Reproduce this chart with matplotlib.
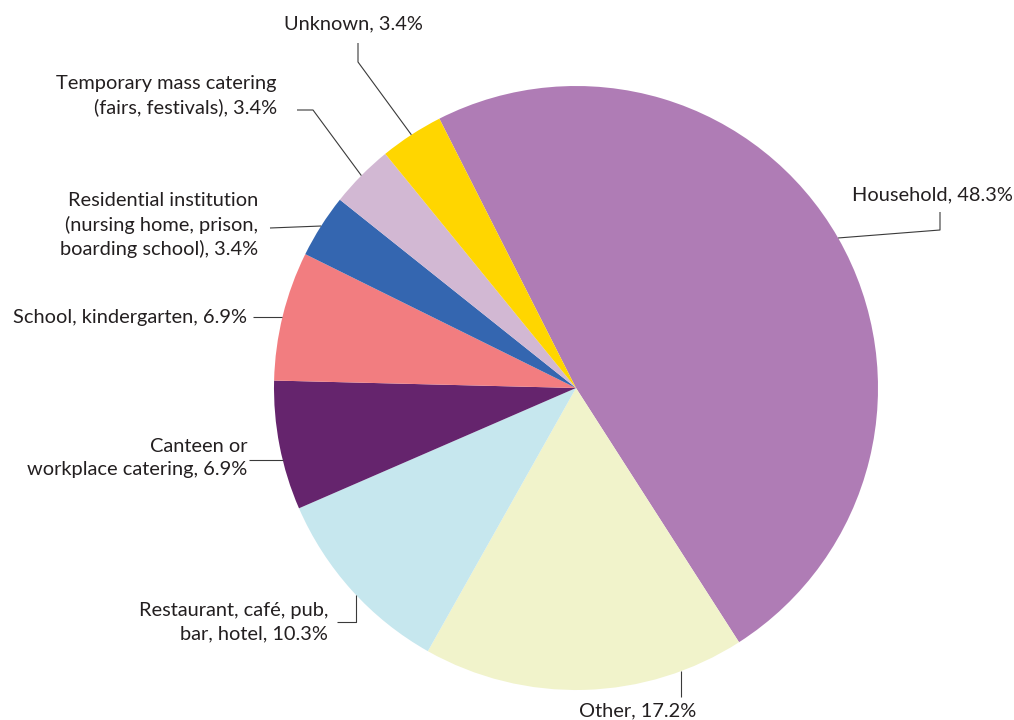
import numpy as np
import matplotlib
matplotlib.use("Agg")
import matplotlib.pyplot as plt

# Outbreak settings, clockwise from the top
categories = [
    "Household",
    "Other",
    "Restaurant, café, pub,\nbar, hotel",
    "Canteen or\nworkplace catering",
    "School, kindergarten",
    "Residential institution\n(nursing home, prison,\nboarding school)",
    "Temporary mass catering\n(fairs, festivals)",
    "Unknown",
]
shares = [48.3, 17.2, 10.3, 6.9, 6.9, 3.4, 3.4, 3.4]
colors = ["#AF7CB5", "#F1F3CB", "#C6E7EE", "#65246D",
          "#F27D80", "#3466B0", "#D2B8D3", "#FFD600"]

W, H = 1014, 720
plt.rcParams["font.family"] = ["Lato", "DejaVu Sans"]

fig = plt.figure(figsize=(W / 100, H / 100), dpi=100)
ax = fig.add_axes([0, 0, 1, 1])

cx, cy, R = 576, H - 388, 302
wedges, _ = ax.pie(shares, colors=colors, startangle=116.9, counterclock=False,
                   center=(cx, cy), radius=R, wedgeprops=dict(linewidth=0),
                   frame=True)
ax.set_xlim(0, W)
ax.set_ylim(0, H)
ax.set_aspect("equal")
ax.axis("off")


def yy(v):
    return H - v


def edge_at_x(x, lower):
    d = np.sqrt(R ** 2 - (x - cx) ** 2)
    return (x, cy - d if lower else cy + d)


def edge_at_y(y_top, left=True):
    y = yy(y_top)
    d = np.sqrt(R ** 2 - (y - cy) ** 2)
    return (cx - d if left else cx + d, y)


# leader start: "mid" = wedge mid-angle on the rim, otherwise a straight
# horizontal / vertical leg meeting the rim
routes = [
    dict(start="mid", path=[(940, 230), (940, 212)], text=(932, 195), ha="center"),
    dict(start=("x", 681), path=[(681, 697)], text=(638, 711), ha="center"),
    dict(start=("x", 356), path=[(356, 622), (337, 622)], text=(328, 622), ha="right"),
    dict(start=("y", 460), path=[(249, 460)], text=(247, 458), ha="right"),
    dict(start=("y", 317), path=[(253, 317)], text=(247, 317), ha="right"),
    dict(start="mid", path=[(270, 228)], text=(258, 225), ha="right"),
    dict(start="mid", path=[(313, 110), (297, 110)], text=(277, 96), ha="right"),
    dict(start="mid", path=[(358, 62), (358, 43)], text=(353, 24), ha="center"),
]

for w, cat, val, rt in zip(wedges, categories, shares, routes):
    if rt["start"] == "mid":
        mid = np.deg2rad((w.theta1 + w.theta2) / 2)
        ex, ey = cx + R * np.cos(mid), cy + R * np.sin(mid)
    elif rt["start"][0] == "x":
        ex, ey = edge_at_x(rt["start"][1], lower=True)
    else:
        ex, ey = edge_at_y(rt["start"][1], left=True)
    xs = [ex] + [p[0] for p in rt["path"]]
    ys = [ey] + [yy(p[1]) for p in rt["path"]]
    ax.plot(xs, ys, color="#3a3a3a", lw=0.8, solid_capstyle="butt")
    ax.text(rt["text"][0], yy(rt["text"][1]), f"{cat}, {val}%",
            ha=rt["ha"], va="center", fontsize=14.4, color="#231F20",
            linespacing=1.42, multialignment=rt["ha"])

fig.savefig("out.png", dpi=100, facecolor="white")
